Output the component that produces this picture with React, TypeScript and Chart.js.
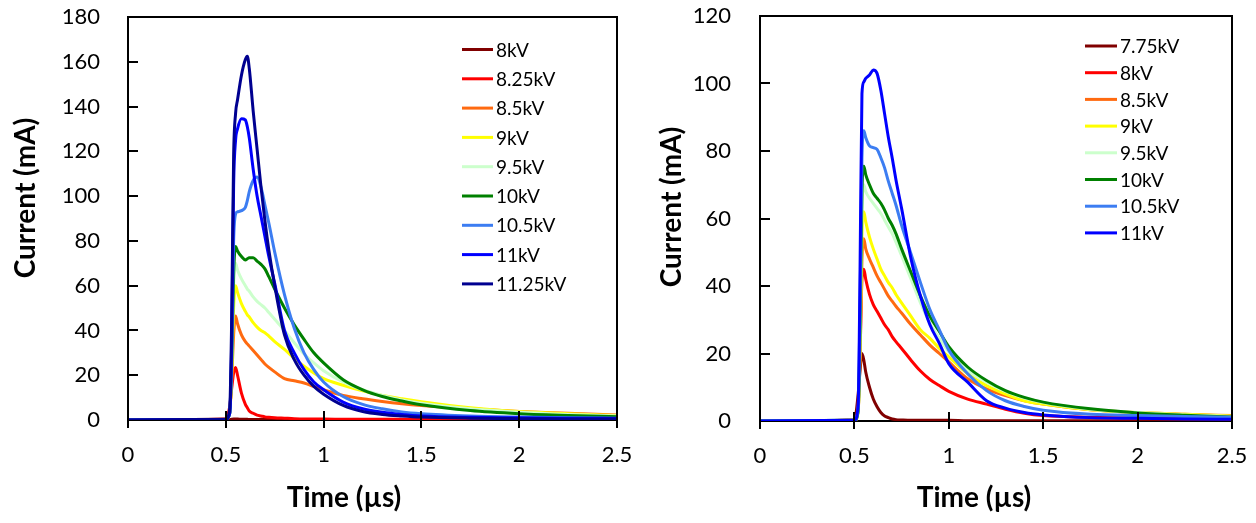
import React, { useEffect, useRef } from 'react';
import { Chart, registerables } from 'chart.js';

Chart.register(...registerables);

// ---------------- Data (left panel) ----------------
const LEFT_TIME = [0, 0.5, 0.52, 0.53, 0.54, 0.55, 0.56, 0.58, 0.6, 0.61, 0.62, 0.64, 0.66, 0.68, 0.7, 0.72, 0.75, 0.8, 0.85, 0.9, 0.95, 1.0, 1.1, 1.2, 1.3, 1.4, 1.5, 1.75, 2.0, 2.25, 2.5];
const LEFT_LABELS = ['8kV', '8.25kV', '8.5kV', '9kV', '9.5kV', '10kV', '10.5kV', '11kV', '11.25kV'];
const L_8KV = [0, 0, 0.2, 0.4, 0.5, 0.5, 0.4, 0.3, 0.3, 0.3, 0.2, 0.2, 0.2, 0.2, 0.2, 0.2, 0.2, 0.2, 0.1, 0.1, 0.1, 0.1, 0.1, 0.1, 0.1, 0.1, 0.1, 0.1, 0.1, 0.1, 0.1];
const L_825KV = [0, 0.5, 6, 14, 21, 23.5, 20, 12, 7, 5.5, 4, 3, 2.2, 1.8, 1.4, 1.2, 1, 0.8, 0.6, 0.5, 0.5, 0.4, 0.3, 0.3, 0.3, 0.3, 0.3, 0.3, 0.2, 0.2, 0.2];
const L_85KV = [0, 0.3, 4, 18, 38, 46.5, 43, 38, 35, 34, 33, 31, 29, 27, 25, 23.5, 21.5, 18.5, 17.5, 16.5, 15, 13.5, 11, 9.5, 8.3, 7.3, 6.5, 5, 3.8, 3, 2.2];
const L_9KV = [0, 0.2, 3, 20, 50, 60, 57, 52, 48.5, 47, 46, 43.5, 41.5, 40, 39, 37.5, 35, 31.5, 27.5, 24, 21, 18.5, 15.5, 13, 11, 9.5, 8.2, 5.5, 3.8, 2.8, 2];
const L_95KV = [0, 0.2, 3, 25, 60, 70, 67, 63, 60, 58.5, 57.5, 55, 53, 51.5, 50, 48, 45, 40, 34.5, 29.5, 25.5, 22, 17, 13.5, 11, 9, 7.5, 5, 3.5, 2.5, 1.8];
const L_10KV = [0, 0.2, 3, 25, 65, 77.5, 75.5, 73, 71.5, 72, 72.5, 72.5, 71, 69.5, 67.5, 64, 58.5, 50, 42.5, 36, 30, 25.5, 18, 13.5, 10.5, 8.5, 6.8, 4.2, 2.8, 2, 1.5];
const L_105KV = [0, 0.2, 3, 30, 80, 92, 93, 93.5, 95, 98, 102, 107, 108.5, 104, 96, 88, 75, 56, 41, 30, 22.5, 17, 10.5, 7, 5, 3.6, 2.8, 1.8, 1.3, 1, 0.8];
const L_11KV = [0, 0.2, 3, 35, 105, 125, 130, 134.5, 134, 131, 126, 112, 100, 91, 82, 73, 61, 40, 30, 22.5, 17, 13.5, 8, 5, 3.5, 2.5, 1.8, 1.2, 1, 0.8, 0.7];
const L_1125KV = [0, 0.3, 5, 45, 118, 137, 143, 154, 161, 162.5, 157, 138, 121, 104, 89, 76, 60, 38, 27, 20, 15, 11.5, 6.5, 3.8, 2.5, 1.8, 1.3, 0.8, 0.6, 0.5, 0.4];
const LEFT_SERIES = [L_8KV, L_825KV, L_85KV, L_9KV, L_95KV, L_10KV, L_105KV, L_11KV, L_1125KV];
const LEFT_COLORS = ['#800000', '#FF0000', '#FF6A10', '#FFFF00', '#CCFFCC', '#008000', '#3C7DF2', '#0000FF', '#000090'];

// ---------------- Data (right panel) ----------------
const RIGHT_TIME = [0, 0.5, 0.52, 0.53, 0.54, 0.55, 0.56, 0.58, 0.6, 0.62, 0.64, 0.66, 0.68, 0.7, 0.72, 0.75, 0.8, 0.85, 0.9, 0.95, 1.0, 1.1, 1.2, 1.3, 1.4, 1.5, 1.75, 2.0, 2.25, 2.5];
const RIGHT_LABELS = ['7.75kV', '8kV', '8.5kV', '9kV', '9.5kV', '10kV', '10.5kV', '11kV'];
const R_775KV = [0, 0.3, 8, 15, 20, 18, 14.5, 10, 6.5, 4.2, 2.5, 1.5, 1, 0.6, 0.4, 0.3, 0.2, 0.2, 0.2, 0.2, 0.2, 0.1, 0.1, 0.1, 0.1, 0.1, 0.1, 0.1, 0.1, 0.1];
const R_8KV = [0, 0.3, 5, 20, 42, 45, 42, 37.5, 34.5, 32.5, 30.5, 28.5, 27, 25, 23.5, 21.5, 18, 14.8, 12.3, 10.5, 8.8, 6.5, 5, 3.5, 2.3, 1.6, 1.1, 0.9, 0.8, 0.7];
const R_85KV = [0, 0.2, 3, 20, 48, 54, 51, 48, 45.5, 43, 41, 39, 37, 35.5, 34, 32, 28.5, 25.5, 22.5, 20, 17.5, 12.5, 9.5, 7.5, 6, 5, 3.3, 2.5, 2, 1.6];
const R_9KV = [0, 0.2, 3, 22, 55, 62, 59, 54.5, 51, 48, 45, 43, 41, 39.5, 37.5, 35, 31, 27, 24.5, 21.5, 19, 14, 10.5, 8, 6, 5, 3.3, 2.5, 2, 1.5];
const R_95KV = [0, 0.2, 3, 25, 62, 70, 68, 66, 64.5, 63, 61.5, 59.5, 57.5, 55.5, 53, 49, 42, 35, 29, 24.5, 20.5, 15, 11.5, 8.8, 6.8, 5.5, 3.5, 2.5, 1.8, 1.3];
const R_10KV = [0, 0.2, 3, 28, 68, 75.5, 73, 70, 67.5, 66, 64.5, 62.5, 60, 58, 55.5, 51, 44, 37, 31, 26.5, 22, 16, 12, 9, 7, 5.6, 3.6, 2.4, 1.7, 1.2];
const R_105KV = [0, 0.2, 4, 35, 78, 86, 84, 81.5, 81, 80.5, 78, 75, 71, 67.5, 64, 58, 49.5, 41, 33, 27, 21, 14, 9, 6, 4.3, 3.2, 2, 1.6, 1.3, 1.1];
const R_11KV = [0, 0.2, 5, 45, 97, 100.5, 101.5, 102.5, 104, 103, 98, 91, 84, 78, 71.5, 63, 48, 37, 28.5, 23, 17, 11.5, 6, 3.8, 2.5, 1.8, 1, 0.8, 0.6, 0.5];
const RIGHT_SERIES = [R_775KV, R_8KV, R_85KV, R_9KV, R_95KV, R_10KV, R_105KV, R_11KV];
const RIGHT_COLORS = ['#800000', '#FF0000', '#FF6A10', '#FFFF00', '#CCFFCC', '#008000', '#3C7DF2', '#0000FF'];

const X_TITLE = 'Time (µs)';
const Y_TITLE = 'Current (mA)';
const FONT = 'Lato';

const framePlugin = {
  id: 'frame',
  beforeDatasetsDraw(chart: any) {
    const { ctx, chartArea } = chart;
    const { left, right, top, bottom } = chartArea;
    const ys = chart.scales.y;
    ctx.save();
    ctx.strokeStyle = '#000';
    ctx.lineWidth = 2;
    ctx.strokeRect(left, top, right - left, bottom - top);
    ys.ticks.forEach((t: any) => {
      const py = Math.round(ys.getPixelForValue(t.value));
      ctx.beginPath();
      ctx.moveTo(left, py);
      ctx.lineTo(left + 10, py);
      ctx.stroke();
    });
    ctx.restore();
  },
  afterDatasetsDraw(chart: any) {
    const { ctx, chartArea } = chart;
    const xs = chart.scales.x;
    ctx.save();
    ctx.strokeStyle = '#000';
    ctx.lineWidth = 2;
    xs.ticks.forEach((t: any) => {
      const px = Math.round(xs.getPixelForValue(t.value));
      ctx.beginPath();
      ctx.moveTo(px, chartArea.bottom - 9);
      ctx.lineTo(px, chartArea.bottom + 8);
      ctx.stroke();
    });
    ctx.restore();
  },
  afterDraw(chart: any, _a: any, o: any) {
    const { ctx } = chart;
    ctx.save();
    ctx.font = `${o.legendSize}px ${FONT}`;
    ctx.textBaseline = 'middle';
    ctx.textAlign = 'left';
    chart.data.datasets.forEach((ds: any, i: number) => {
      const y = o.legendY + i * o.legendGap;
      ctx.strokeStyle = ds.borderColor;
      ctx.lineWidth = 3;
      ctx.beginPath();
      ctx.moveTo(o.legendX, y);
      ctx.lineTo(o.legendX + o.legendLine, y);
      ctx.stroke();
      ctx.fillStyle = '#000';
      ctx.fillText(ds.label, o.legendX + o.legendLine + 3, y + 1);
    });
    ctx.font = `bold ${o.titleSize}px ${FONT}`;
    ctx.fillStyle = '#000';
    ctx.textAlign = 'center';
    ctx.textBaseline = 'middle';
    ctx.fillText(X_TITLE, o.xTitleX, o.xTitleY);
    ctx.translate(o.yTitleX, o.yTitleY);
    ctx.rotate(-Math.PI / 2);
    ctx.fillText(Y_TITLE, 0, 0);
    ctx.restore();
  },
};

type Panel = {
  time: number[];
  labels: string[];
  series: number[][];
  colors: string[];
  yMax: number;
  width: number;
  area: { left: number; right: number; top: number; bottom: number };
  yPad: number;
  deco: any;
};

const H = 523;

function buildConfig(p: Panel): any {
  const n = p.labels.length;
  return {
    type: 'line',
    data: {
      datasets: p.labels.map((lab, i) => ({
        label: lab,
        data: p.time.map((t, k) => ({ x: t, y: p.series[i][k] })),
        borderColor: p.colors[i],
        backgroundColor: p.colors[i],
        borderWidth: 3,
        pointRadius: 0,
        cubicInterpolationMode: 'monotone',
        fill: false,
        order: n - i,
      })),
    },
    options: {
      responsive: false,
      animation: false,
      layout: { padding: { top: p.area.top, right: p.width - p.area.right, left: 0, bottom: 0 } },
      scales: {
        x: {
          type: 'linear',
          min: 0,
          max: 2.5,
          ticks: {
            stepSize: 0.5,
            padding: 22,
            color: '#000',
            font: { family: FONT, size: 22 },
            maxRotation: 0,
            callback: (v: any) => String(Number(v)),
          },
          grid: { display: false, drawTicks: false },
          border: { display: true, color: '#000', width: 2 },
          afterFit: (s: any) => {
            s.height = H - p.area.bottom;
            s.paddingLeft = 0;
            s.paddingRight = 0;
          },
        },
        y: {
          type: 'linear',
          min: 0,
          max: p.yMax,
          ticks: { stepSize: 20, padding: p.yPad, color: '#000', font: { family: FONT, size: 22 } },
          grid: { display: false, drawTicks: false },
          border: { display: true, color: '#000', width: 2 },
          afterFit: (s: any) => {
            s.width = p.area.left;
            s.paddingTop = 0;
            s.paddingBottom = 0;
          },
        },
      },
      plugins: {
        legend: { display: false },
        tooltip: { enabled: false },
        frame: p.deco,
      },
    },
    plugins: [framePlugin],
  };
}

// left canvas spans page x 0..645, right canvas spans 645..1256
const LEFT_PANEL: Panel = {
  time: LEFT_TIME,
  labels: LEFT_LABELS,
  series: LEFT_SERIES,
  colors: LEFT_COLORS,
  yMax: 180,
  width: 645,
  area: { left: 128, right: 617, top: 17, bottom: 420 },
  yPad: 28,
  deco: {
    legendX: 462, legendY: 49.5, legendGap: 29.3, legendLine: 31, legendSize: 19,
    titleSize: 28, xTitleX: 344, xTitleY: 498, yTitleX: 26, yTitleY: 198,
  },
};

const RIGHT_PANEL: Panel = {
  time: RIGHT_TIME,
  labels: RIGHT_LABELS,
  series: RIGHT_SERIES,
  colors: RIGHT_COLORS,
  yMax: 120,
  width: 611,
  area: { left: 115, right: 587, top: 16, bottom: 421 },
  yPad: 29,
  deco: {
    legendX: 440, legendY: 46, legendGap: 26.7, legendLine: 32, legendSize: 19,
    titleSize: 28, xTitleX: 329, xTitleY: 498, yTitleX: 27, yTitleY: 207,
  },
};

function PulseChart({ panel }: { panel: Panel }) {
  const ref = useRef<HTMLCanvasElement>(null);
  useEffect(() => {
    const chart = new Chart(ref.current as HTMLCanvasElement, buildConfig(panel));
    return () => chart.destroy();
  }, [panel]);
  return (
    <canvas
      ref={ref}
      width={panel.width}
      height={H}
      style={{ display: 'block', width: panel.width, height: H }}
    />
  );
}

export default function App() {
  return (
    <div style={{ position: 'fixed', left: 0, top: 0, width: 1256, height: 523, background: '#fff', display: 'flex' }}>
      <PulseChart panel={LEFT_PANEL} />
      <PulseChart panel={RIGHT_PANEL} />
    </div>
  );
}
